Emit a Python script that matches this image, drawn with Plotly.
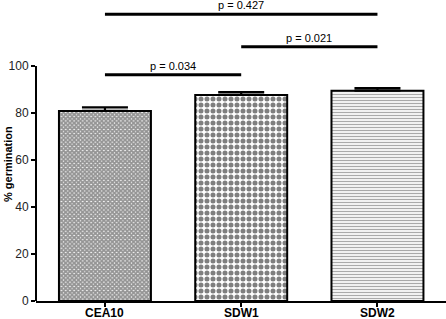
import plotly.graph_objects as go

categories = ["CEA10", "SDW1", "SDW2"]
means = [80.9, 87.7, 89.5]
errors = [1.5, 1.2, 1.1]
yticks = [0, 20, 40, 60, 80, 100]

comp_start = [0, 1, 0]
comp_end = [1, 2, 2]
comp_level = [96.3, 108.2, 122.0]
comp_text = ["p = 0.034", "p = 0.021", "p = 0.427"]

FONT = "Liberation Sans, Arial, sans-serif"

fig = go.Figure()
fig.add_trace(go.Bar(
    x=list(range(len(categories))),
    y=means,
    width=0.675,
    marker=dict(
        color="white",
        line=dict(color="black", width=2),
        pattern=dict(
            shape=["x", ".", "-"],
            size=[3, 6, 3],
            solidity=[0.85, 0.55, 0.45],
            fgcolor=["#2a2a2a", "black", "#555555"],
            bgcolor="white",
            fillmode="overlay",
        ),
    ),
    error_y=dict(type="data", symmetric=False, array=errors,
                 arrayminus=[0] * len(errors), width=23, thickness=2.2,
                 color="black"),
    showlegend=False,
))

shapes = []
annotations = []
for s, e, lv, t in zip(comp_start, comp_end, comp_level, comp_text):
    shapes.append(dict(type="line", xref="x", yref="y", x0=s, x1=e,
                       y0=lv, y1=lv, line=dict(color="black", width=3)))
    annotations.append(dict(x=(s + e) / 2, y=lv, xref="x", yref="y",
                            text=t, showarrow=False, yanchor="bottom",
                            yshift=1, font=dict(size=11, color="black",
                                                family=FONT)))

# y axis line only from 0 to 100
shapes.append(dict(type="line", xref="paper", yref="y", x0=0, x1=0,
                   y0=0, y1=100, line=dict(color="black", width=2)))

# category labels below the axis
for i, c in enumerate(categories):
    annotations.append(dict(text="<b>" + c + "</b>", x=i, xref="x",
                            y=0, yref="paper", yshift=-12,
                            yanchor="middle", xanchor="center",
                            showarrow=False, borderpad=0,
                            font=dict(size=12, color="black", family=FONT)))

annotations.append(dict(text="<b>% germination</b>", xref="paper", yref="paper",
                        x=0, xshift=-28, y=0.455, textangle=-90,
                        showarrow=False, xanchor="center", yanchor="middle",
                        font=dict(size=11, color="black", family=FONT)))

fig.update_layout(
    width=446, height=319,
    margin=dict(l=36, r=0, t=0, b=18, autoexpand=False),
    plot_bgcolor="white", paper_bgcolor="white",
    font=dict(family=FONT, size=12, color="black"),
    shapes=shapes,
    annotations=annotations,
    xaxis=dict(
        range=[-0.506, 2.503],
        tickvals=list(range(len(categories))),
        showticklabels=False,
        showline=True, linecolor="black", linewidth=2,
        ticks="outside", ticklen=4, tickwidth=1.5, tickcolor="black",
        showgrid=False, zeroline=False, automargin=False,
    ),
    yaxis=dict(
        range=[0, 128.1],
        tickvals=yticks,
        showline=False, showgrid=False, zeroline=False, automargin=False,
        ticks="outside", ticklen=4, tickwidth=1.5, tickcolor="black",
        tickfont=dict(size=12, color="#222222", family=FONT),
    ),
)

fig.write_html("out.html",
               config={"displayModeBar": False},
               post_script="document.body.style.margin='0';"
                           "document.body.style.padding='0';")
